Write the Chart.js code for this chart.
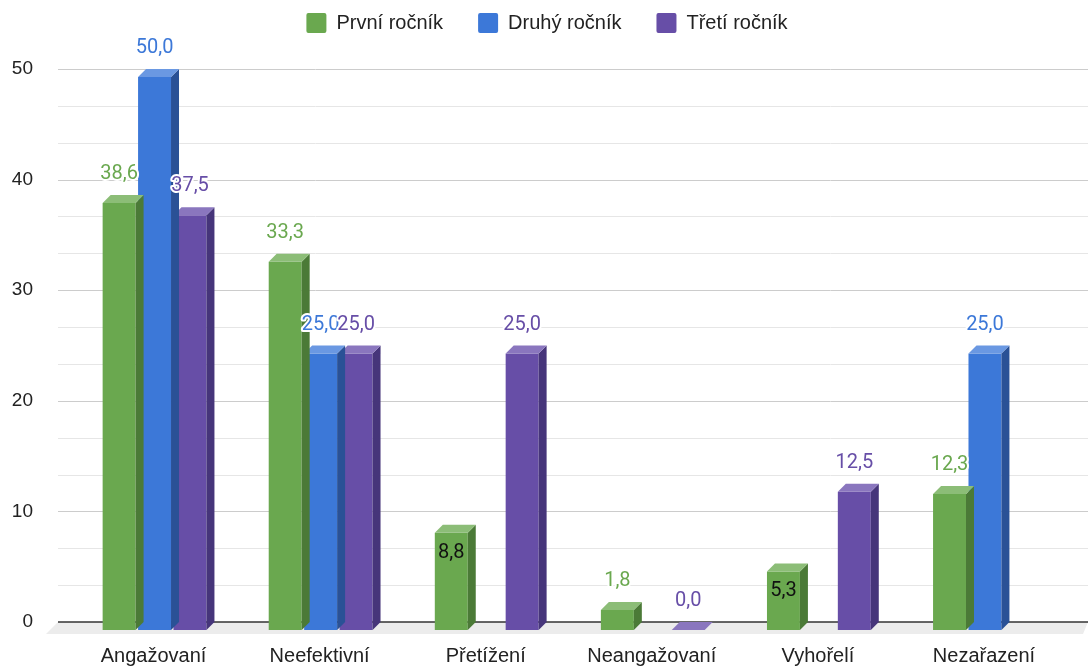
<!DOCTYPE html>
<html>
<head>
<meta charset="utf-8">
<script src="https://cdn.jsdelivr.net/npm/chart.js@4.4.1/dist/chart.umd.min.js"></script>
<style>
  html, body { margin: 0; padding: 0; background: #fff; }
</style>
</head>
<body>
<canvas id="chart" width="1088" height="666"></canvas>
<script>
// data
const categories = ['Angažovaní', 'Neefektivní', 'Přetížení', 'Neangažovaní', 'Vyhořelí', 'Nezařazení'];
const seriesNames = ['První ročník', 'Druhý ročník', 'Třetí ročník'];
const prvniRocnik = [38.6, 33.3, 8.8, 1.8, 5.3, 12.3];
const druhyRocnik = [50.0, 25.0, null, null, null, 25.0];
const tretiRocnik = [37.5, 25.0, 25.0, 0.0, 12.5, null];
const yMin = 0, yMax = 50, yStep = 10;

const DEPTH = 8; // 3d offset of bars, px
const fmt = v => v.toFixed(1).replace('.', ',');

Chart.defaults.font.family = '"Liberation Sans", Arial, sans-serif';
Chart.defaults.font.size = 20;
Chart.defaults.color = '#222';

// draws the floor, back-wall grid and the 3d faces of every bar
const bar3d = {
  id: 'bar3d',
  beforeInit(chart) {
    // extra room between legend and plot, and nudge legend to the right
    const lg = chart.legend;
    const fit = lg.fit;
    lg.fit = function () { fit.call(this); this.height += 26; };
    const draw = lg.draw;
    lg.draw = function (...a) {
      chart.ctx.save();
      chart.ctx.translate(9, 0);
      draw.apply(this, a);
      chart.ctx.restore();
    };
  },
  beforeDatasetsDraw(chart) {
    const { ctx } = chart;
    const ys = chart.scales.y;
    const y0 = ys.getPixelForValue(0);
    ctx.save();
    ctx.fillStyle = '#ececec';
    ctx.beginPath();
    ctx.moveTo(58, y0);
    ctx.lineTo(1088, y0);
    ctx.lineTo(1083, y0 + 12);
    ctx.lineTo(46, y0 + 12);
    ctx.closePath();
    ctx.fill();
    ctx.lineWidth = 1;
    for (let i = 1; i <= 15; i++) {
      const py = Math.round(ys.getPixelForValue(i * yStep / 3)) + 0.5;
      ctx.strokeStyle = i % 3 === 0 ? '#cccccc' : '#e6e6e6';
      ctx.beginPath();
      ctx.moveTo(58, py);
      ctx.lineTo(1088, py);
      ctx.stroke();
    }
    ctx.strokeStyle = '#333';
    ctx.lineWidth = 1.5;
    ctx.beginPath();
    ctx.moveTo(58, y0);
    ctx.lineTo(1088, y0);
    ctx.stroke();
    ctx.restore();
  },
  beforeDatasetDraw(chart) {
    chart.ctx.save();
    chart.ctx.translate(-DEPTH, DEPTH);
  },
  afterDatasetDraw(chart, args) {
    const ctx = chart.ctx;
    const ds = chart.data.datasets[args.index];
    args.meta.data.forEach((el, i) => {
      if (ds.data[i] == null) return;
      const { x, y, base, width } = el.getProps(['x', 'y', 'base', 'width'], true);
      const l = x - width / 2, r = x + width / 2;
      ctx.fillStyle = ds.sideColor;
      ctx.beginPath();
      ctx.moveTo(r, y);
      ctx.lineTo(r + DEPTH, y - DEPTH);
      ctx.lineTo(r + DEPTH, base - DEPTH);
      ctx.lineTo(r, base);
      ctx.closePath();
      ctx.fill();
      ctx.fillStyle = ds.topColor;
      ctx.beginPath();
      ctx.moveTo(l, y);
      ctx.lineTo(l + DEPTH, y - DEPTH);
      ctx.lineTo(r + DEPTH, y - DEPTH);
      ctx.lineTo(r, y);
      ctx.closePath();
      ctx.fill();
    });
    ctx.restore();
  },
  afterDatasetsDraw(chart, args, opts) {
    const ctx = chart.ctx;
    ctx.save();
    ctx.font = '20px Roboto';
    ctx.textAlign = 'center';
    ctx.textBaseline = 'alphabetic';
    ctx.lineJoin = 'round';
    chart.data.datasets.forEach((ds, di) => {
      chart.getDatasetMeta(di).data.forEach((el, i) => {
        const v = ds.data[i];
        if (v == null) return;
        const { x, y } = el.getProps(['x', 'y'], true);
        const fx = x - DEPTH;
        if (opts.inside.some(p => p[0] === di && p[1] === i)) {
          ctx.fillStyle = '#111';
          ctx.fillText(fmt(v), fx, y + DEPTH + 25);
        } else {
          ctx.strokeStyle = '#fff';
          ctx.lineWidth = 4;
          ctx.strokeText(fmt(v), fx, y - 16);
          ctx.fillStyle = ds.labelColor;
          ctx.fillText(fmt(v), fx, y - 16);
        }
      });
    });
    ctx.restore();
  }
};

new Chart(document.getElementById('chart'), {
  type: 'bar',
  data: {
    labels: categories,
    datasets: [
      { label: seriesNames[0], data: prvniRocnik, backgroundColor: '#6aa84f', topColor: '#8cbd77', sideColor: '#4b7a37', labelColor: '#6aa84f', clip: false },
      { label: seriesNames[1], data: druhyRocnik, backgroundColor: '#3c78d8', topColor: '#6a98e2', sideColor: '#2a5196', labelColor: '#3c78d8', clip: false },
      { label: seriesNames[2], data: tretiRocnik, backgroundColor: '#674ea7', topColor: '#8a76be', sideColor: '#46357a', labelColor: '#674ea7', clip: false },
    ]
  },
  options: {
    responsive: false,
    animation: false,
    layout: { padding: { left: 0, right: 12, top: -22, bottom: 0 } },
    categoryPercentage: 0.64,
    barPercentage: 0.93,
    plugins: {
      legend: {
        position: 'top',
        labels: { boxWidth: 20, boxHeight: 20, padding: 35, useBorderRadius: true, borderRadius: 2, color: '#222' },
      },
      tooltip: { enabled: false },
      bar3d: { inside: [[0, 2], [0, 4]] },
    },
    scales: {
      x: {
        grid: { display: false, drawTicks: false },
        border: { display: false },
        ticks: { autoSkip: false, maxRotation: 0, padding: 22, labelOffset: -9, color: '#222' },
        afterFit(scale) { scale.height = 44; },
      },
      y: {
        min: yMin,
        max: yMax,
        grid: { display: false, drawTicks: false },
        border: { display: false },
        ticks: { stepSize: yStep, padding: 46.5, color: '#222', font: { size: 19 } },
        afterFit(scale) {
          scale.width = 79.5;
          scale.paddingTop = 10;
          scale.paddingBottom = 10;
        },
      },
    },
  },
  plugins: [bar3d],
});
</script>
</body>
</html>
